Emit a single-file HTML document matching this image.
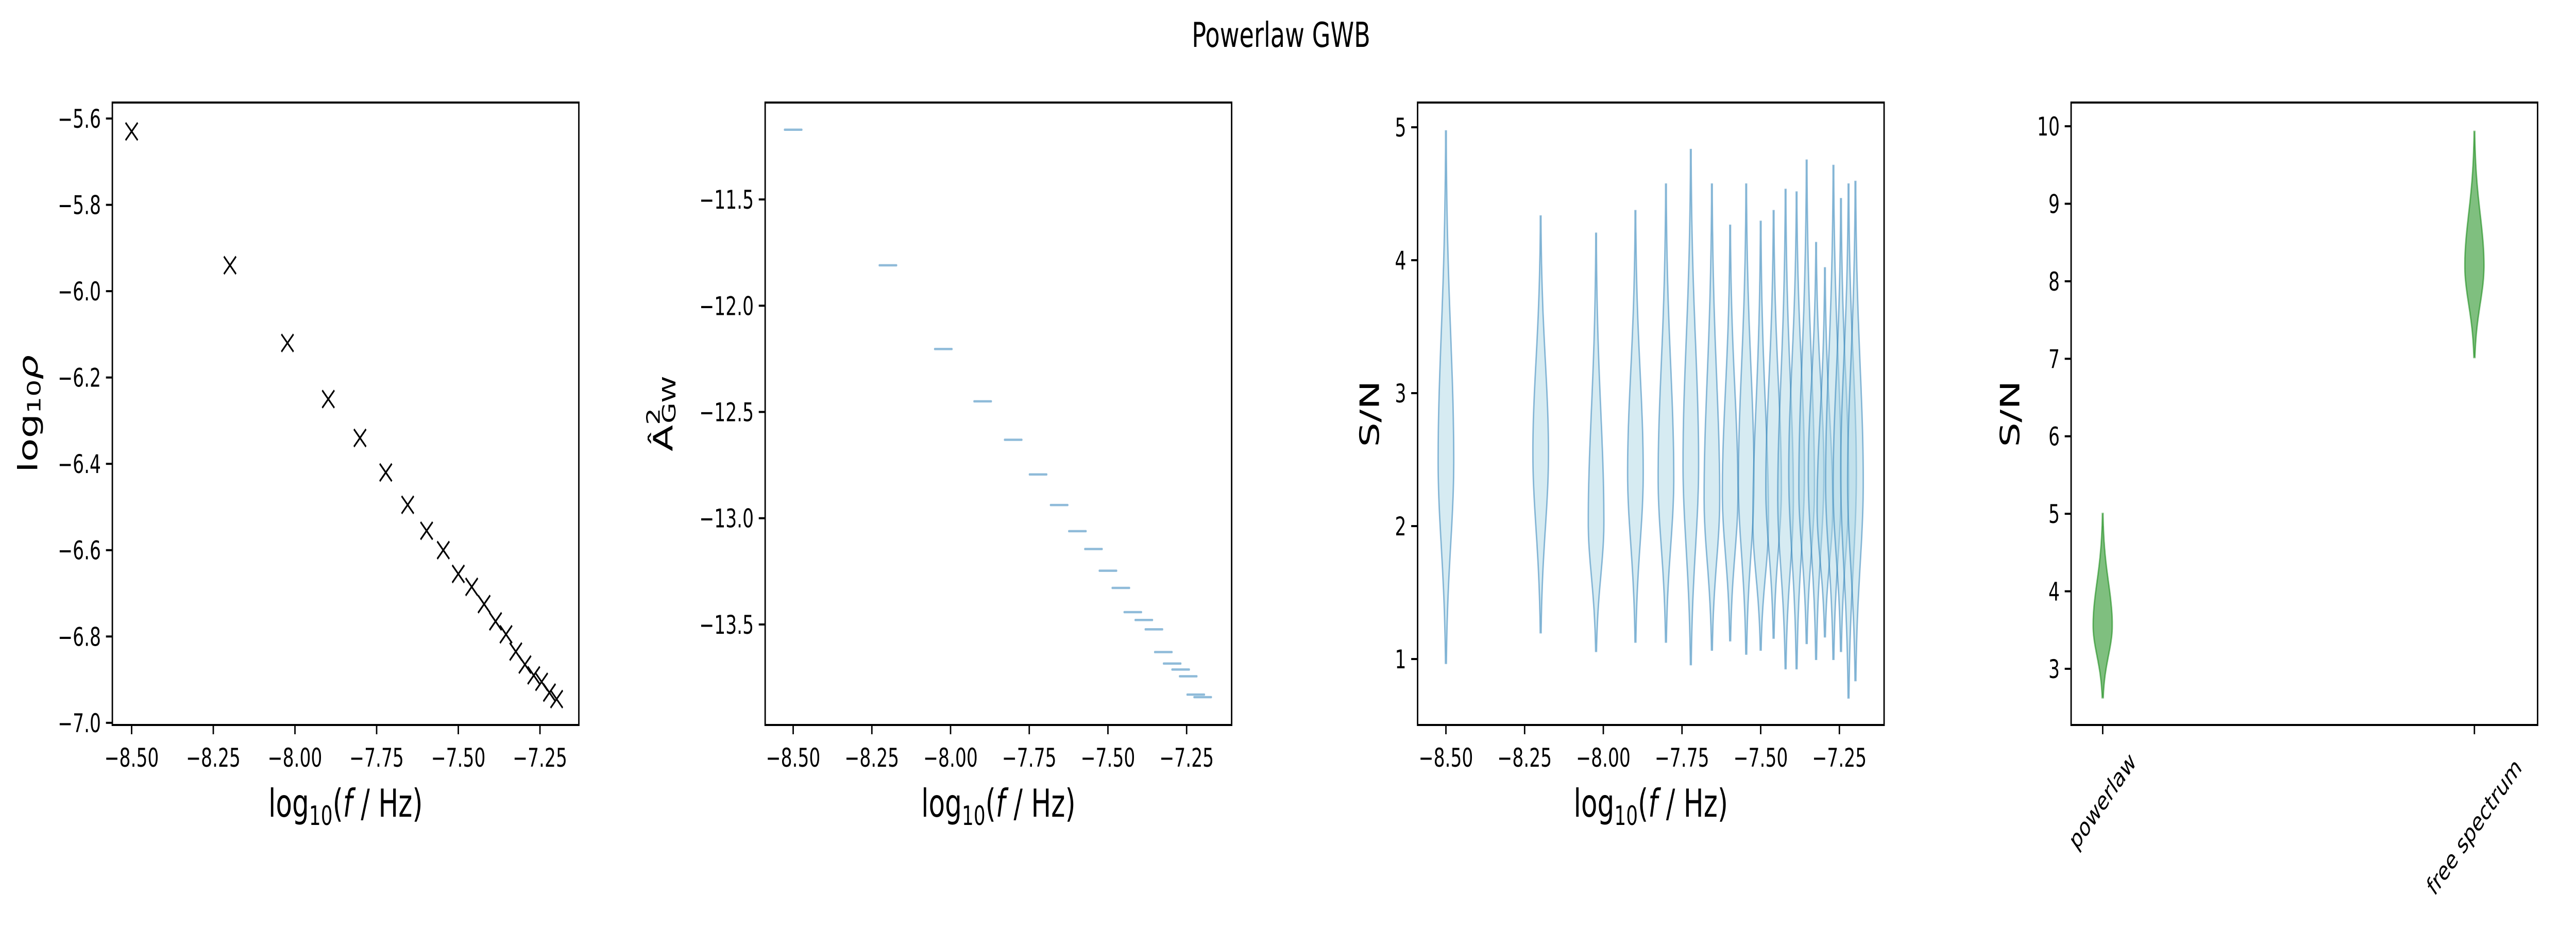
<!DOCTYPE html>
<html><head><meta charset="utf-8"><style>
html,body{margin:0;padding:0;background:#fff;width:100%;height:100%;overflow:hidden;}
svg{display:block;width:100vw;height:100vh;font-family:"DejaVu Sans","Liberation Sans",sans-serif;}
</style></head><body>
<svg id="fig" viewBox="0 0 7245 1801" preserveAspectRatio="none" xmlns="http://www.w3.org/2000/svg">
<rect width="7245" height="1801" fill="#fff"/>
<text x="3603" y="91" font-size="67" text-anchor="middle">Powerlaw GWB</text>
</svg>
<script>
// ---- data ----
const logFreq = [-8.5,-8.199,-8.023,-7.898,-7.801,-7.722,-7.655,-7.597,-7.546,-7.5,-7.459,-7.421,-7.386,-7.354,-7.324,-7.296,-7.269,-7.245,-7.221,-7.199];
const logRho = [-5.63,-5.94,-6.12,-6.25,-6.34,-6.42,-6.495,-6.555,-6.60,-6.655,-6.685,-6.725,-6.765,-6.795,-6.835,-6.865,-6.89,-6.905,-6.93,-6.945];
const ampSq = [-11.172,-11.81,-12.204,-12.45,-12.631,-12.794,-12.938,-13.061,-13.145,-13.247,-13.328,-13.442,-13.479,-13.523,-13.63,-13.684,-13.712,-13.744,-13.83,-13.842];
const snrMin = [0.97,1.20,1.06,1.13,1.13,0.96,1.07,1.14,1.04,1.07,1.16,0.93,0.93,1.12,1.00,1.17,1.00,1.06,0.71,0.84];
const snrMax = [4.97,4.33,4.20,4.37,4.57,4.83,4.57,4.26,4.57,4.29,4.37,4.53,4.51,4.75,4.13,3.94,4.71,4.46,4.57,4.59];
const snrMode = [2.49,2.55,2.03,2.40,2.36,2.47,2.21,2.25,2.33,2.03,2.29,2.21,2.40,2.29,2.40,2.14,2.33,2.29,2.40,2.33];
const modelNames = ["powerlaw","free spectrum"];
const modelMin = [2.63,7.02];
const modelMax = [5.00,9.93];
const modelMode = [3.56,8.2];
const xTicks = [-8.5,-8.25,-8.0,-7.75,-7.5,-7.25];
const xTickLabels = ["−8.50","−8.25","−8.00","−7.75","−7.50","−7.25"];
const y1Ticks = [-5.6,-5.8,-6.0,-6.2,-6.4,-6.6,-6.8,-7.0];
const y1Labels = ["−5.6","−5.8","−6.0","−6.2","−6.4","−6.6","−6.8","−7.0"];
const y2Ticks = [-11.5,-12.0,-12.5,-13.0,-13.5];
const y2Labels = ["−11.5","−12.0","−12.5","−13.0","−13.5"];
const y3Ticks = [1,2,3,4,5];
const y4Ticks = [3,4,5,6,7,8,9,10];

const NS="http://www.w3.org/2000/svg";
const svg=document.getElementById('fig');
function el(tag,attrs,parent){const e=document.createElementNS(NS,tag);for(const k in attrs)e.setAttribute(k,attrs[k]);(parent||svg).appendChild(e);return e;}
const B=1407,W=1312,TOP=199;
function lin(d0,d1,r0,r1){return v=>r0+(v-d0)/(d1-d0)*(r1-r0);}

function axesFrame(g,L){
  const r=el('rect',{x:L,y:TOP,width:W,height:B-TOP,fill:'none',stroke:'#000','stroke-width':4},g);
  
  
}
function xTicksDraw(g,sx,ticks,labels){
  ticks.forEach((t,i)=>{
    const x=sx(t);
    el('line',{x1:x,y1:B,x2:x,y2:B+18,stroke:'#000','stroke-width':4},g);
    const tx=el('text',{x:x,y:1488,'font-size':50,'text-anchor':'middle'},g);
    tx.textContent=labels[i];
    
    
  });
}
function yTicksDraw(g,L,sy,ticks,labels){
  ticks.forEach((t,i)=>{
    const y=sy(t);
    el('line',{x1:L-18,y1:y,x2:L,y2:y,stroke:'#000','stroke-width':4},g);
    const tx=el('text',{x:L-32,y:y+18,'font-size':50,'text-anchor':'end'},g);
    tx.textContent=labels[i];
    
    
  });
}
function xLabelLogF(g,L){
  const t=el('text',{x:L+W/2,y:1585,'font-size':75,'text-anchor':'middle'},g);
  
  
  t.innerHTML='log<tspan font-size="52" dy="16">10</tspan><tspan dy="-16">(</tspan><tspan font-style="italic">f</tspan> / Hz)';
}
function yLabel(g,cx,html,name){
  const t=el('text',{x:0,y:0,'font-size':75,'text-anchor':'middle',transform:`translate(${cx},803) rotate(-90)`,'dominant-baseline':'central'},g);
  
  
  t.innerHTML=html;
}
function violinPath(cx,sy,mn,mx,md,hw){
  const sUp=(mx-md)/2.6, sDn=(md-mn)/2.4;
  const N=80,pts=[];
  for(let i=0;i<=N;i++){const v=mn+(mx-mn)*i/N;const s=v>md?sUp:sDn;const w=hw*Math.exp(-0.5*Math.pow((v-md)/s,2));pts.push([v,Math.max(w,1)]);}
  let d='';
  pts.forEach((p,i)=>{d+=(i?'L':'M')+(cx+p[1]).toFixed(1)+','+sy(p[0]).toFixed(1);});
  for(let i=pts.length-1;i>=0;i--){d+='L'+(cx-pts[i][1]).toFixed(1)+','+sy(pts[i][0]).toFixed(1);}
  return d+'Z';
}

// ---- panel 1 ----
(function(){
  const L=316,g=el('g',{});
  
  
  const sx=lin(-8.559,-7.131,L,L+W), sy=lin(-5.563,-7.005,TOP,B);
  logFreq.forEach((f,i)=>{
    const x=sx(f),y=sy(logRho[i]),r=17;
    const p=el('path',{d:`M${x-r},${y-r}L${x+r},${y+r}M${x-r},${y+r}L${x+r},${y-r}`,stroke:'#000','stroke-width':4,fill:'none'},g);
    
    
  });
  axesFrame(g,L);xTicksDraw(g,sx,xTicks,xTickLabels);yTicksDraw(g,L,sy,y1Ticks,y1Labels);
  xLabelLogF(g,L);
  yLabel(g,80,'log<tspan font-size="52" dy="16">10</tspan><tspan dy="-16" font-style="italic">ρ</tspan>','y-axis-title');
})();

// ---- panel 2 ----
(function(){
  const L=2152,g=el('g',{});
  
  
  const sx=lin(-8.589,-7.107,L,L+W), sy=lin(-11.044,-13.973,TOP,B);
  logFreq.forEach((f,i)=>{
    const x=sx(f),y=sy(ampSq[i]);
    const ln=el('line',{x1:x-24,y1:y,x2:x+24,y2:y,stroke:'rgb(143,187,217)','stroke-width':4.5,'stroke-linecap':'round'},g);
    
    
  });
  axesFrame(g,L);xTicksDraw(g,sx,xTicks,xTickLabels);yTicksDraw(g,L,sy,y2Ticks,y2Labels);
  xLabelLogF(g,L);
  yLabel(g,1866,'Â<tspan font-size="52" dy="-28">2</tspan><tspan font-size="52" dx="-30" dy="44">GW</tspan>','y-axis-title');
})();

// ---- panel 3 ----
(function(){
  const L=3987,g=el('g',{});
  
  
  const sx=lin(-8.59,-7.108,L,L+W), sy=lin(5.186,0.504,TOP,B);
  logFreq.forEach((f,i)=>{
    const p=el('path',{d:violinPath(sx(f),sy,snrMin[i],snrMax[i],snrMode[i],22),fill:'rgba(173,216,230,0.5)',stroke:'rgba(31,119,180,0.5)','stroke-width':4},g);
    
    
  });
  axesFrame(g,L);xTicksDraw(g,sx,xTicks,xTickLabels);yTicksDraw(g,L,sy,y3Ticks,y3Ticks.map(String));
  xLabelLogF(g,L);
  yLabel(g,3853,'S/N','y-axis-title');
})();

// ---- panel 4 ----
(function(){
  const L=5825,g=el('g',{});
  
  
  const sx=lin(0.915,2.17,L,L+W), sy=lin(10.306,2.275,TOP,B);
  const labelCy=[1555,1605];
  modelNames.forEach((n,i)=>{
    const x=sx(i+1);
    const p=el('path',{d:violinPath(x,sy,modelMin[i],modelMax[i],modelMode[i],27),fill:'rgba(0,128,0,0.5)',stroke:'rgba(0,128,0,0.5)','stroke-width':4},g);
    
    
    el('line',{x1:x,y1:B,x2:x,y2:B+18,stroke:'#000','stroke-width':4},g);
    const t=el('text',{x:0,y:0,'font-size':50,'text-anchor':'middle',transform:`translate(${x},${labelCy[i]}) rotate(-45)`,'dominant-baseline':'central'},g);
    t.textContent=n;
    
    
  });
  axesFrame(g,L);yTicksDraw(g,L,sy,y4Ticks,y4Ticks.map(String));
  yLabel(g,5654,'S/N','y-axis-title');
})();
</script>
</body></html>
